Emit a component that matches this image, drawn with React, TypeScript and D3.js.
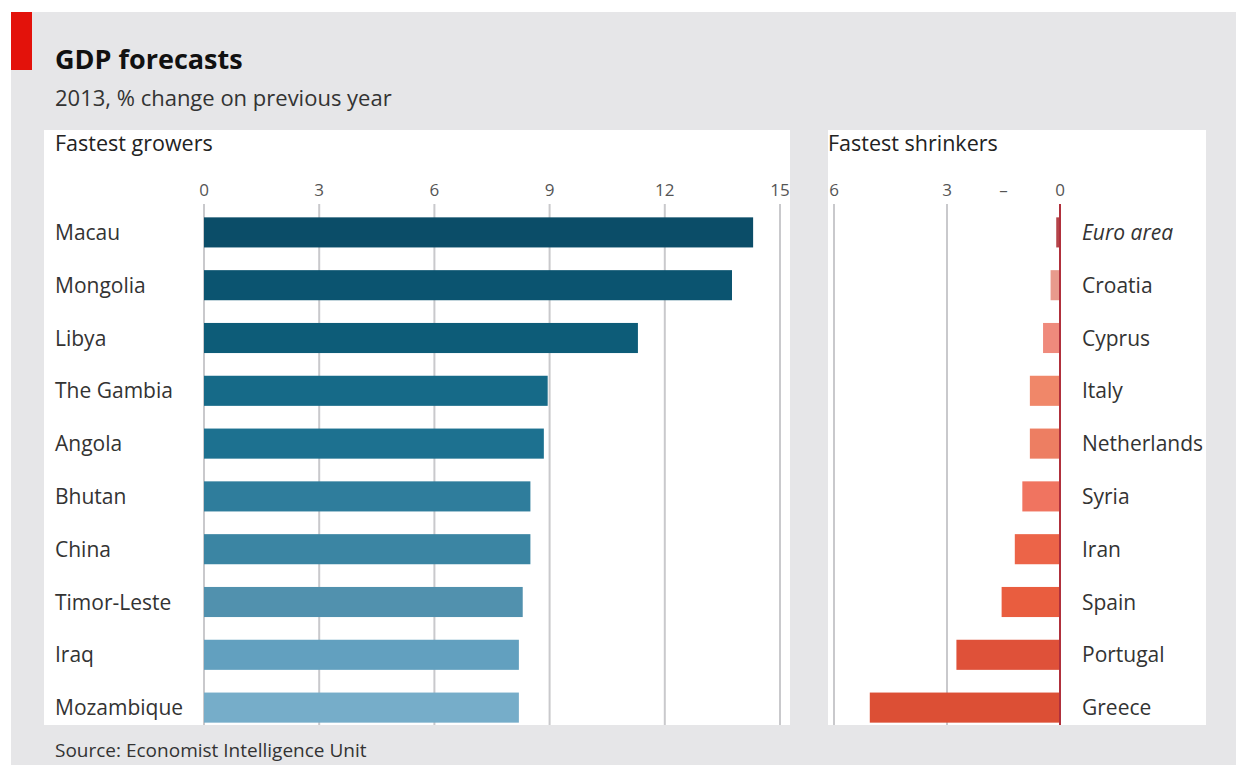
import React from "react";
import * as d3 from "d3";

const growers = ["Macau", "Mongolia", "Libya", "The Gambia", "Angola", "Bhutan", "China", "Timor-Leste", "Iraq", "Mozambique"];
const growerValues = [14.3, 13.75, 11.3, 8.95, 8.85, 8.5, 8.5, 8.3, 8.2, 8.2];
const growerColors = ["#0b4d68", "#0b5470", "#0d5c78", "#166a88", "#1d7190", "#2f7d9c", "#3b85a3", "#5191ae", "#62a0bf", "#76adc9"];
const growerTicks = [0, 3, 6, 9, 12, 15];

const shrinkers = ["Euro area", "Croatia", "Cyprus", "Italy", "Netherlands", "Syria", "Iran", "Spain", "Portugal", "Greece"];
const shrinkerValues = [-0.1, -0.25, -0.45, -0.8, -0.8, -1.0, -1.2, -1.55, -2.75, -5.05];
const shrinkerColors = ["#b5444a", "#e89a8c", "#ef8a7c", "#f08769", "#ed7e62", "#f07460", "#ec6448", "#e95d3f", "#df5139", "#dc4f35"];
const shrinkerTicks = [-6, -3, -1.5, 0];
const shrinkerTickLabels = ["6", "3", "–", "0"];
const shrinkerGrid = [-6, -3];

const FONT = "'Open Sans', 'Noto Sans', sans-serif";

export default function App() {
  const W = 1236, H = 771;
  const yTop = 206, yBottom = 734;

  const y = d3.scaleBand<string>().domain(growers).range([yTop, yBottom]).paddingInner(0.43).paddingOuter(0.215);
  const y2 = d3.scaleBand<string>().domain(shrinkers).range([yTop, yBottom]).paddingInner(0.43).paddingOuter(0.215);

  const x = d3.scaleLinear().domain([0, 15]).range([204, 780]);
  const x2 = d3.scaleLinear().domain([-6, 0]).range([834, 1060]);

  const gridTop = 204, gridBottom = 725;

  return (
    <svg width={W} height={H} style={{ position: "absolute", left: 0, top: 0 }} fontFamily={FONT}>
      <rect x={0} y={0} width={W} height={H} fill="#ffffff" />
      <rect x={11} y={12} width={W - 11} height={753} fill="#e6e6e8" />
      <rect x={11} y={12} width={21} height={58} fill="#e3120b" />
      <text x={55} y={69} fontSize={27} fontWeight={700} fill="#111">GDP forecasts</text>
      <text x={55} y={106} fontSize={22} fill="#333">2013, % change on previous year</text>

      {/* Left panel */}
      <rect x={44} y={130} width={746} height={595} fill="#ffffff" />
      <text x={55} y={151} fontSize={21.5} fill="#222">Fastest growers</text>
      {growerTicks.map((t) => (
        <g key={"gt" + t}>
          <line x1={x(t)} x2={x(t)} y1={gridTop} y2={gridBottom} stroke="#c9c9cc" strokeWidth={2} />
          <text x={x(t)} y={196} fontSize={17} fill="#555" textAnchor="middle">{t}</text>
        </g>
      ))}
      {growers.map((c, i) => (
        <g key={c}>
          <rect x={x(0)} y={y(c)} width={x(growerValues[i]) - x(0)} height={y.bandwidth()} fill={growerColors[i]} />
          <text x={55} y={(y(c) as number) + y.bandwidth() / 2} dy="0.36em" fontSize={21} fill="#333">{c}</text>
        </g>
      ))}

      {/* Right panel */}
      <rect x={828} y={130} width={378} height={595} fill="#ffffff" />
      <text x={828} y={151} fontSize={21.5} fill="#222">Fastest shrinkers</text>
      {shrinkerGrid.map((t) => (
        <line key={"sg" + t} x1={x2(t)} x2={x2(t)} y1={gridTop} y2={gridBottom} stroke="#c9c9cc" strokeWidth={2} />
      ))}
      {shrinkerTicks.map((t, i) => (
        <text key={"st" + t} x={x2(t)} y={196} fontSize={17} fill="#555" textAnchor="middle">{shrinkerTickLabels[i]}</text>
      ))}
      {shrinkers.map((c, i) => (
        <g key={c}>
          <rect x={x2(shrinkerValues[i])} y={y2(c)} width={x2(0) - x2(shrinkerValues[i])} height={y2.bandwidth()} fill={shrinkerColors[i]} />
          <text x={1082} y={(y2(c) as number) + y2.bandwidth() / 2} dy="0.36em" fontSize={21} fill="#333" fontStyle={i === 0 ? "italic" : "normal"}>{c}</text>
        </g>
      ))}
      <line x1={x2(0)} x2={x2(0)} y1={gridTop} y2={gridBottom} stroke="#b0303c" strokeWidth={2} />

      <text x={55} y={757} fontSize={19} fill="#333">Source: Economist Intelligence Unit</text>
    </svg>
  );
}
